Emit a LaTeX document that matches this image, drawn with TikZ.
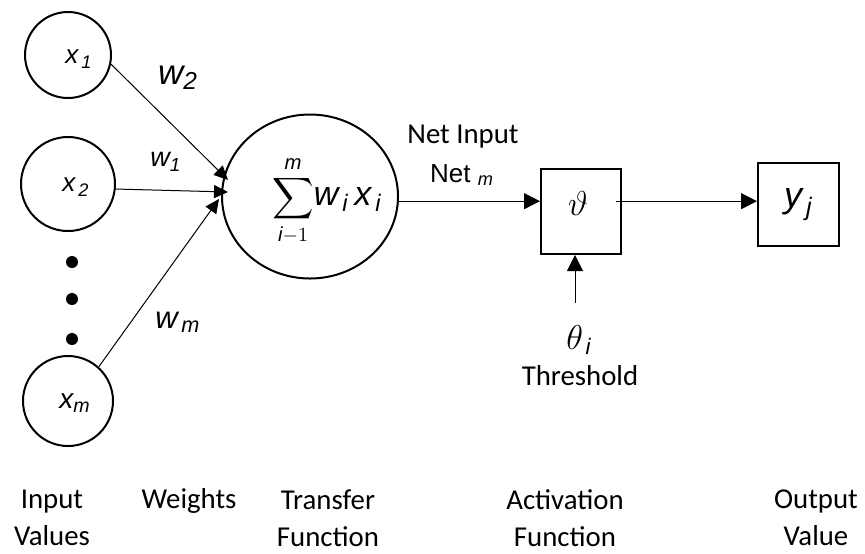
\documentclass[tikz,border=0pt]{standalone}
\usepackage{amsmath}
\usepackage{fontspec}
\setmainfont{Carlito}
\newfontfamily\arialfont{Liberation Sans}
\usetikzlibrary{arrows.meta,calc,shapes.geometric}
\newcommand{\av}[1]{\text{\arialfont\itshape #1}}

\begin{document}
\begin{tikzpicture}[x=0.5pt,y=-0.5pt,
  inval/.style={circle,draw,line width=1pt,inner sep=0pt},
  blockbox/.style={rectangle,draw,line width=1pt,inner sep=0pt},
  inarr/.style={-{Triangle[length=7pt,width=6.5pt]},line width=0.5pt},
  arr/.style={-{Triangle[length=8pt,width=8pt]},line width=0.5pt},
  lbl/.style={font=\fontsize{14.4}{18.5}\selectfont,align=center}]
  \useasboundingbox (0,0) rectangle (865,553);
  % inputs
  \node[inval,minimum size=43pt] (x1) at (68,55) {};
  \node[inval,minimum size=47pt] (x2) at (68,184) {};
  \node[inval,minimum size=45pt] (xm) at (68,401) {};
  \node (x1t) at (79,59) {\fontsize{13}{13}\selectfont$\av{x}_{\,\av{1}}$};
  \node (x2t) at (76,187) {\fontsize{13}{13}\selectfont$\av{x}_{\,\av{2}}$};
  \node (xmt) at (75,403) {\fontsize{14}{14}\selectfont$\av{x}_{\av{m}}$};
  \fill (72,262) circle (3pt);
  \fill (72,299) circle (3pt);
  \fill (72,339) circle (3pt);
  % transfer function
  \node[ellipse,draw,line width=1pt,minimum width=88pt,minimum height=82pt,inner sep=0pt] (sum) at (310,196.5) {};
  \node[inner sep=0pt] (sumt) at (327,201)
    {\fontsize{14.5}{14.5}\selectfont$\displaystyle\sum_{\av{i}-1}^{\av{m}}$%
     \fontsize{17}{17}\selectfont$\av{w}_{\,\av{i}}\,\av{x}_{\,\av{i}}$};
  \coordinate (tip1) at (228,180);
  \coordinate (tip2) at (228,192);
  \coordinate (tipm) at (219,199);
  \draw[inarr] (x1.-12) -- (tip1);
  \draw[inarr] (x2.-6) -- (tip2);
  \draw[inarr] (xm.48) -- (tipm);
  \node (w2) at (178,78) {\fontsize{17.5}{17.5}\selectfont$\av{w}_{\av{2}}$};
  \node (w1) at (166,162) {\fontsize{13.5}{13.5}\selectfont$\av{w}_{\av{1}}$};
  \node (wm) at (178,322) {\fontsize{15.5}{15.5}\selectfont$\av{w}_{\,\av{m}}$};
  % activation and output
  \node[blockbox,minimum width=40pt,minimum height=42.5pt] (act) at (581,211.5) {};
  \node (vt) at (578,203) {\fontsize{17}{17}\selectfont$\vartheta$};
  \node[blockbox,minimum width=40.5pt,minimum height=41.5pt] (out) at (798.5,204.5)
    {\fontsize{18}{18}\selectfont$\av{y}_{\,\av{j}}$};
  \draw[arr] (sum.-3) -- (sum.-3 -| act.west);
  \draw[arr] ($(act.east |- sum.-3)+(-6,0)$) -- (sum.-3 -| out.west);
  \coordinate (thr) at (575,303);
  \draw[arr] (thr) -- (thr |- act.south);
  \node[lbl] (netin) at (463,137) {Net Input};
  \node (netm) at (462,175) {\fontsize{13}{13}\selectfont\arialfont Net $_{\av{m}}$};
  \node (theta) at (579,340) {\fontsize{16}{16}\selectfont$\theta_{\,\av{i}}$};
  \node[lbl] (thrt) at (580,376) {Threshold};
  % captions
  \node[lbl] (capin) at (52,518) {Input\\Values};
  \node[lbl] (capw) at (189,501) {Weights};
  \node[lbl] (captr) at (328,518) {Transfer\\Function};
  \node[lbl] (capact) at (565,518) {Activation\\Function};
  \node[lbl] (capout) at (816,518) {Output\\Value};
\end{tikzpicture}
\end{document}
